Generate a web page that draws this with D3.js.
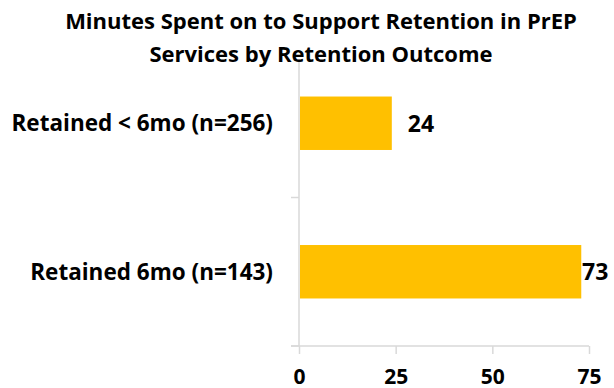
<!DOCTYPE html>
<html>
<head>
<meta charset="utf-8">
<script src="https://cdn.jsdelivr.net/npm/d3@7"></script>
<style>
  html, body { margin: 0; padding: 0; background: #ffffff; }
  svg { display: block; }
  text { font-family: "Open Sans", "Noto Sans", sans-serif; font-weight: bold; fill: #000; }
</style>
</head>
<body>
<svg id="chart" width="614" height="388"></svg>
<script>
const titleLines = ["Minutes Spent on to Support Retention in PrEP", "Services by Retention Outcome"];
const categories = ["Retained < 6mo (n=256)", "Retained 6mo (n=143)"];
const values = [24, 73];
const xTicks = [0, 25, 50, 75];

const W = 614, H = 388;
const margin = { left: 299, right: 25, top: 49, bottom: 42 };
const svg = d3.select("#chart");

const x = d3.scaleLinear().domain([0, 75]).range([margin.left, W - margin.right]);
const y = d3.scaleBand().domain(categories).range([margin.top, H - margin.bottom]).paddingInner(0.64).paddingOuter(0.32);

const gridColor = "#d9d9d9";

// title
svg.append("g").selectAll("text").data(titleLines).join("text")
  .attr("x", 321).attr("y", (d, i) => 29 + i * 33)
  .attr("text-anchor", "middle")
  .style("font-size", "22px")
  .text(d => d);

// y axis line & ticks
const yAxisG = svg.append("g").attr("transform", `translate(${margin.left},0)`);
yAxisG.append("line").attr("x1", 0).attr("x2", 0)
  .attr("y1", 62).attr("y2", H - margin.bottom)
  .attr("stroke", gridColor).attr("stroke-width", 1.5);
const bandEdges = [margin.top + (H - margin.bottom - margin.top) / 2, H - margin.bottom];
yAxisG.selectAll("line.tk").data(bandEdges).join("line").attr("class", "tk")
  .attr("x1", -8).attr("x2", 0).attr("y1", d => d).attr("y2", d => d)
  .attr("stroke", gridColor).attr("stroke-width", 1.5);

// category labels
svg.append("g").selectAll("text").data(categories).join("text")
  .attr("x", margin.left - 26)
  .attr("y", d => y(d) + y.bandwidth() / 2)
  .attr("dy", "0.36em")
  .attr("text-anchor", "end")
  .style("font-size", "22.5px")
  .text(d => d);

// x axis
const xAxis = d3.axisBottom(x).tickValues(xTicks).tickSize(8).tickSizeOuter(0);
const xg = svg.append("g").attr("transform", `translate(0,${H - margin.bottom})`).call(xAxis);
xg.select(".domain").attr("stroke", gridColor).attr("stroke-width", 1.5).attr("d", `M${margin.left - 8},0H${x(75)}`);
xg.selectAll(".tick line").attr("stroke", gridColor).attr("stroke-width", 1.5);
xg.selectAll(".tick text").style("font-size", "21px").attr("font-family", null).attr("fill", "#000")
  .attr("y", 37.5).attr("dy", 0);

// bars
svg.append("g").selectAll("rect").data(values).join("rect")
  .attr("x", x(0) + 1)
  .attr("y", (d, i) => y(categories[i]))
  .attr("width", d => x(d) - x(0) - 1)
  .attr("height", y.bandwidth())
  .attr("fill", "#ffc000");

// value labels
svg.append("g").selectAll("text").data(values).join("text")
  .attr("x", d => Math.min(x(d) + 16, W - 32))
  .attr("y", (d, i) => y(categories[i]) + y.bandwidth() / 2)
  .attr("dy", "0.36em")
  .style("font-size", "23px")
  .text(d => d);
</script>
</body>
</html>
